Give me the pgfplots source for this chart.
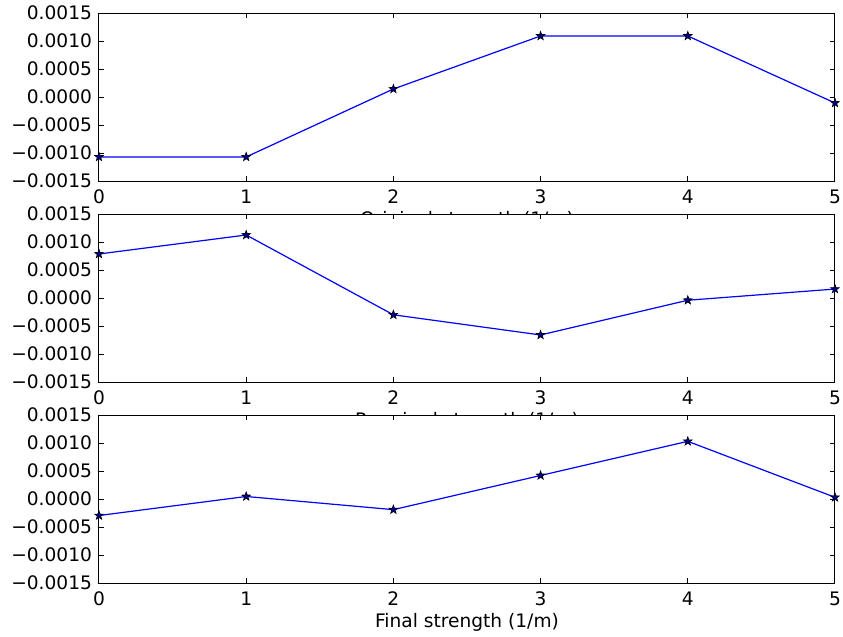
\documentclass[border=0pt]{standalone}
\usepackage{fontspec}
\setmainfont{DejaVu Sans}
\usepackage{pgfplots}
\pgfplotsset{compat=1.18}

% filled five-pointed star, like matplotlib's '*'
\pgfdeclareplotmark{fstar}{%
  \pgfpathmoveto{\pgfpointpolar{90}{\pgfplotmarksize}}%
  \pgfpathlineto{\pgfpointpolar{126}{0.4\pgfplotmarksize}}%
  \pgfpathlineto{\pgfpointpolar{162}{\pgfplotmarksize}}%
  \pgfpathlineto{\pgfpointpolar{198}{0.4\pgfplotmarksize}}%
  \pgfpathlineto{\pgfpointpolar{234}{\pgfplotmarksize}}%
  \pgfpathlineto{\pgfpointpolar{270}{0.4\pgfplotmarksize}}%
  \pgfpathlineto{\pgfpointpolar{306}{\pgfplotmarksize}}%
  \pgfpathlineto{\pgfpointpolar{342}{0.4\pgfplotmarksize}}%
  \pgfpathlineto{\pgfpointpolar{18}{\pgfplotmarksize}}%
  \pgfpathlineto{\pgfpointpolar{54}{0.4\pgfplotmarksize}}%
  \pgfpathclose
  \pgfusepathqfillstroke}

\pgfplotsset{
  strength/.style={
    scale only axis,
    width=368pt, height=84pt,
    xmin=0, xmax=5, ymin=-0.0015, ymax=0.0015,
    xtick={0,1,2,3,4,5},
    ytick={-0.0015,-0.001,-0.0005,0,0.0005,0.001,0.0015},
    yticklabels={−0.0015,−0.0010,−0.0005,0.0000,0.0005,0.0010,0.0015},
    scaled y ticks=false,
    /pgf/number format/assume math mode=true,
    tick align=inside,
    major tick length=2.5pt,
    axis line style={line width=0.5pt},
    every tick/.style={black, line width=0.5pt},
    ticklabel style={font=\fontsize{9.3}{11}\selectfont},
    xticklabel style={yshift=-1pt},
    label style={font=\fontsize{9.3}{11}\selectfont},
    xlabel style={yshift=3pt},
    axis background/.style={fill=white},
    clip=false,
  },
  ser/.style={blue, line width=0.6pt, mark=fstar, mark size=2.3pt,
    mark options={draw=black, fill=blue!60!black, line width=0.3pt}},
}

\begin{document}
\begin{tikzpicture}
\useasboundingbox (0,0) rectangle (421.5pt,-318.5pt);

\begin{axis}[strength, at={(49.5pt,-6.5pt)}, anchor=north west,
  xlabel={Original strength (1/m)}]
\addplot[ser] coordinates {
  (0,-0.00107) (1,-0.00107) (2,0.000143) (3,0.00109) (4,0.00109) (5,-0.000107)
};
\end{axis}

\begin{axis}[strength, at={(49.5pt,-107pt)}, anchor=north west,
  xlabel={Required strength (1/m)}]
\addplot[ser] coordinates {
  (0,0.000786) (1,0.001125) (2,-0.0003) (3,-0.00066) (4,-0.00004) (5,0.00016)
};
\end{axis}

\begin{axis}[strength, at={(49.5pt,-207.5pt)}, anchor=north west,
  xlabel={Final strength (1/m)}]
\addplot[ser] coordinates {
  (0,-0.000295) (1,0.000045) (2,-0.00019) (3,0.00042) (4,0.00103) (5,0.00003)
};
\end{axis}
\end{tikzpicture}
\end{document}
